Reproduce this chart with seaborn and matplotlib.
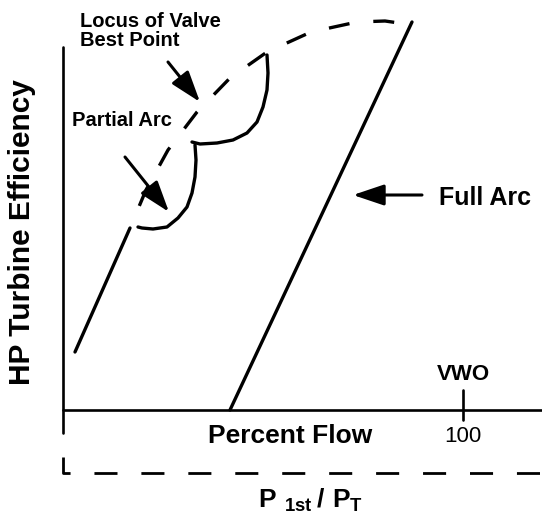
import matplotlib
matplotlib.use("Agg")
import matplotlib.pyplot as plt
import seaborn as sns

# schematic values: x = percent flow, y = relative HP efficiency (arbitrary units)
full_flow = [41.75, 87.25]
full_eff = [0, 97]

low_flow = [3, 16.75]
low_eff = [14.5, 45.5]

locus_flow = [16.75, 20.75, 26.25, 33.5, 41.75, 51, 62, 73.5, 80.5, 87.5]
locus_eff = [45.5, 55, 65, 74.5, 83, 89.5, 94.5, 97, 97.25, 96.25]

arc1_flow = [18.75, 19.75, 22.5, 26, 28.75, 31, 32.25, 33, 33.25, 33]
arc1_eff = [45.75, 45.5, 45.25, 45.75, 48, 50.75, 54.25, 58.25, 62.5, 66.25]

arc2_flow = [32.25, 34.25, 38.5, 42.5, 46, 48.5, 50, 51, 51.25, 51]
arc2_eff = [67, 66.5, 66.75, 67.5, 69.25, 72, 75.75, 80, 84.25, 88.75]

vwo_flow = 100

sns.set_theme(style="white")
plt.rcParams["font.family"] = ["Liberation Sans", "DejaVu Sans"]
plt.rcParams["text.color"] = "black"
plt.rcParams["mathtext.fontset"] = "custom"
plt.rcParams["mathtext.rm"] = "Liberation Sans"
plt.rcParams["mathtext.bf"] = "Liberation Sans:bold"

fig = plt.figure(figsize=(5.42, 5.15), dpi=100)
ax = fig.add_axes([0, 0, 1, 1])
ax.set_xlim(-15.75, 119.75)
ax.set_ylim(-26.25, 102.5)
ax.axis("off")

LW = 2.4
kw = dict(color="black", sort=False, estimator=None, legend=False, ax=ax)

# axes drawn by hand (schematic)
sns.lineplot(x=[0, 0], y=[90.75, -5.75], lw=1.9, **kw)
sns.lineplot(x=[0, 120], y=[0, 0], lw=1.9, **kw)
sns.lineplot(x=[vwo_flow, vwo_flow], y=[5, -2.5], lw=1.9, **kw)
sns.lineplot(x=[0, 0, 120], y=[-11.75, -15.75, -15.75], lw=2.0,
             linestyle=(0, (8.3, 8.6)), **kw)

# curves
sns.lineplot(x=full_flow, y=full_eff, lw=LW, **kw)
sns.lineplot(x=low_flow, y=low_eff, lw=LW, **kw)
sns.lineplot(x=locus_flow, y=locus_eff, lw=LW,
             linestyle=(6.3, (6.3, 7.2)), **kw)
sns.lineplot(x=arc1_flow, y=arc1_eff, lw=LW, solid_joinstyle="round", **kw)
sns.lineplot(x=arc2_flow, y=arc2_eff, lw=LW, solid_joinstyle="round", **kw)

arrow = dict(arrowstyle="-|>,head_length=0.95,head_width=0.32", lw=2.2,
             color="black", mutation_scale=20, shrinkA=0, shrinkB=0)
ax.annotate("", xy=(34.25, 77), xytext=(26.25, 87), arrowprops=arrow)
ax.annotate("", xy=(26.5, 49.5), xytext=(15.5, 63.25), arrowprops=arrow)
ax.annotate("", xy=(72.5, 53.75), xytext=(89.75, 53.75), arrowprops=arrow)

ax.text(4.25, 94.75, "Locus of Valve\nBest Point", fontsize=14.5,
        fontweight="bold", ha="left", va="center", linespacing=1.0)
ax.text(2.25, 72.25, "Partial Arc", fontsize=14.5, fontweight="bold",
        ha="left", va="center")
ax.text(94, 53, "Full Arc", fontsize=18, fontweight="bold",
        ha="left", va="center")
ax.text(vwo_flow, 9, "VWO", fontsize=16, fontweight="bold",
        ha="center", va="center")
ax.text(vwo_flow, -6.5, "100", fontsize=16, ha="center", va="center")
ax.text(56.75, -6.5, "Percent Flow", fontsize=19, fontweight="bold",
        ha="center", va="center")
ax.text(-10.25, 44.5, "HP Turbine Efficiency", fontsize=21.5, fontweight="bold",
        rotation=90, ha="center", va="center")
ax.text(62, -22.5, r"$\mathbf{P}\ {}_{\mathbf{1st}}\,\mathbf{/}\ \mathbf{P}_{\mathbf{T}}$",
        fontsize=19, ha="center", va="center")

fig.savefig("out.png", dpi=100)
